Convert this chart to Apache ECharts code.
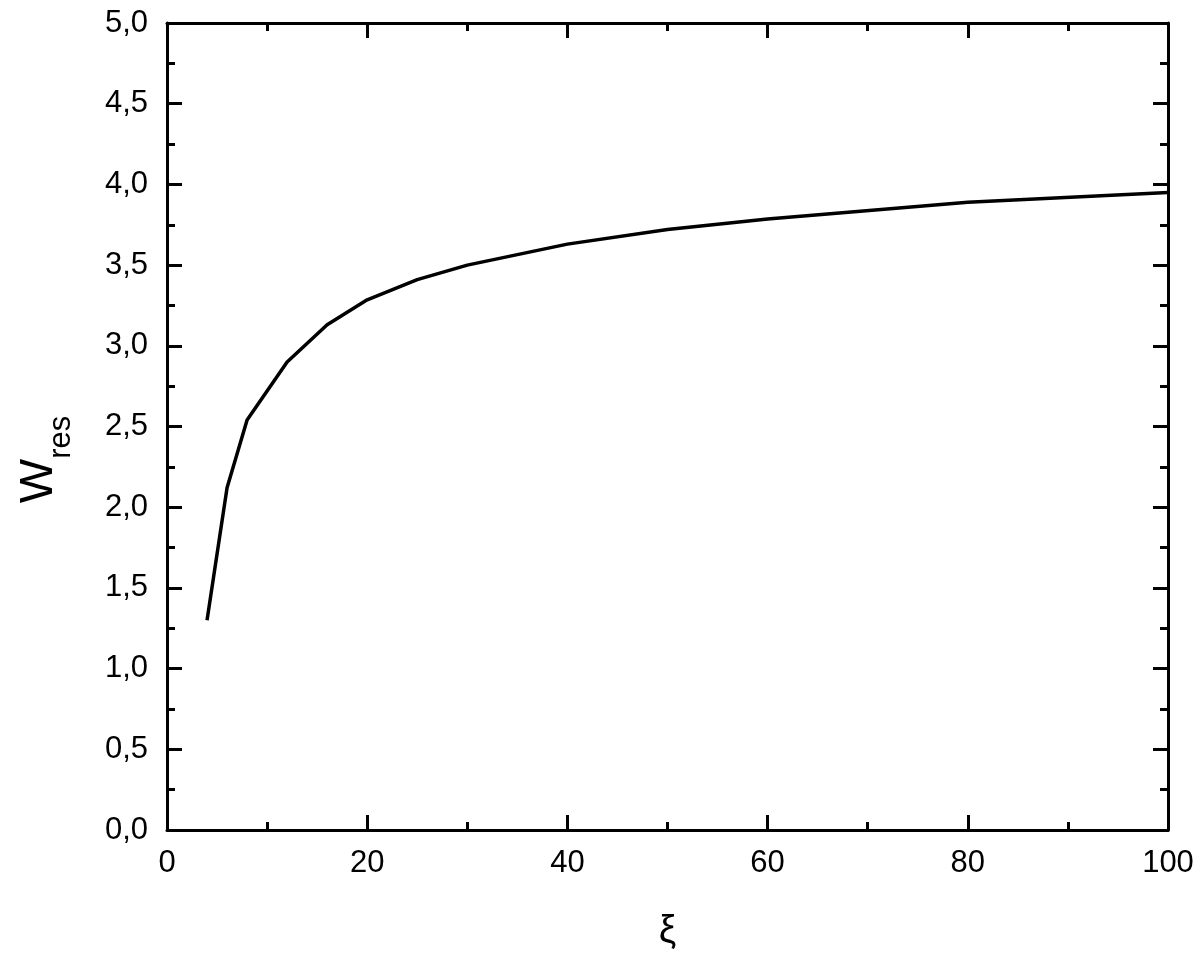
<!DOCTYPE html>
<html>
<head>
<meta charset="utf-8">
<script src="https://cdn.jsdelivr.net/npm/echarts@6/dist/echarts.min.js"></script>
<style>
html,body{margin:0;padding:0;background:#fff;}
#chart{width:1200px;height:957px;}
</style>
</head>
<body>
<div id="chart"></div>
<script>
// Data
const xi = [4, 6, 8, 12, 16, 20, 25, 30, 40, 50, 60, 80, 100];
const wRes = [1.30, 2.12, 2.54, 2.90, 3.13, 3.285, 3.41, 3.50, 3.63, 3.72, 3.785, 3.89, 3.95];
const yTickLabels = ['0,0','0,5','1,0','1,5','2,0','2,5','3,0','3,5','4,0','4,5','5,0'];
const xTickLabels = ['0','20','40','60','80','100'];

const font = '"Liberation Sans", Arial, sans-serif';
const axisCommon = {
  axisLine: { show: true, onZero: false, lineStyle: { color: '#000', width: 3 } },
  axisTick: { show: true, inside: true, length: 15, lineStyle: { color: '#000', width: 3 } },
  minorTick: { show: true, splitNumber: 2, length: 8, lineStyle: { color: '#000', width: 3 } },
  splitLine: { show: false },
  minorSplitLine: { show: false }
};

const chart = echarts.init(document.getElementById('chart'), null, { renderer: 'canvas' });
chart.setOption({
  animation: false,
  backgroundColor: '#fff',
  grid: { left: 167, right: 32, top: 23, bottom: 127 },
  xAxis: [
    Object.assign({}, axisCommon, {
      type: 'value', position: 'bottom', min: 0, max: 100, interval: 20,
      name: 'ξ', nameLocation: 'middle', nameGap: 82,
      nameTextStyle: { fontFamily: font, fontSize: 39, color: '#000' },
      axisLabel: {
        show: true, margin: 18, fontFamily: font, fontSize: 31, color: '#000',
        formatter: function (v) { return xTickLabels[Math.round(v / 20)]; }
      }
    }),
    Object.assign({}, axisCommon, {
      type: 'value', position: 'top', min: 0, max: 100, interval: 20,
      axisLabel: { show: false }
    })
  ],
  yAxis: [
    Object.assign({}, axisCommon, {
      type: 'value', position: 'left', min: 0, max: 5, interval: 0.5,
      name: '{w|W}{s|res}', nameLocation: 'middle', nameGap: 104, nameRotate: 90,
      nameTextStyle: {
        fontFamily: font, color: '#000', padding: [0, 66, 0, 0],
        rich: {
          w: { fontFamily: font, fontSize: 47, color: '#000', verticalAlign: 'bottom', lineHeight: 56 },
          s: { fontFamily: font, fontSize: 31, color: '#000', verticalAlign: 'bottom', lineHeight: 56, padding: [0, 0, -14, 0] }
        }
      },
      axisLabel: {
        show: true, margin: 19, fontFamily: font, fontSize: 31, color: '#000',
        formatter: function (v) { return yTickLabels[Math.round(v / 0.5)]; }
      }
    }),
    Object.assign({}, axisCommon, {
      type: 'value', position: 'right', min: 0, max: 5, interval: 0.5,
      axisLabel: { show: false }
    })
  ],
  series: [{
    type: 'line',
    xAxisIndex: 0, yAxisIndex: 0,
    data: xi.map((x, i) => [x, wRes[i]]),
    showSymbol: false,
    symbol: 'none',
    lineStyle: { color: '#000', width: 3.5 },
    clip: true
  }]
});
</script>
</body>
</html>
